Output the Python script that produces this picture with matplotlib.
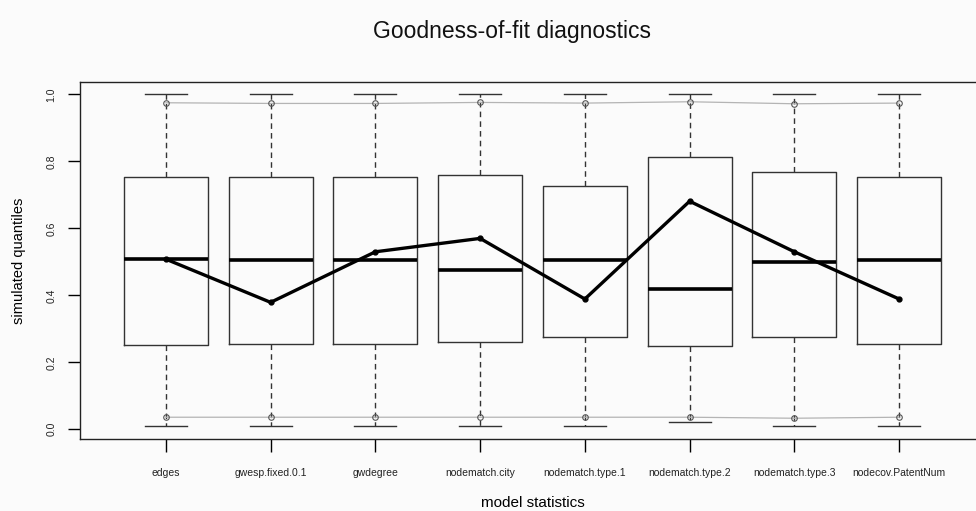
import numpy as np
import matplotlib.pyplot as plt

plt.rcParams['font.family'] = ['Liberation Sans', 'DejaVu Sans']

stats_names = ["edges", "gwesp.fixed.0.1", "gwdegree", "nodematch.city",
               "nodematch.type.1", "nodematch.type.2", "nodematch.type.3",
               "nodecov.PatentNum"]

q1 = [0.252, 0.255, 0.255, 0.261, 0.276, 0.250, 0.276, 0.255]
med = [0.508, 0.505, 0.505, 0.476, 0.505, 0.420, 0.500, 0.505]
q3 = [0.754, 0.754, 0.754, 0.759, 0.727, 0.814, 0.767, 0.754]
whis_lo = [0.011, 0.011, 0.011, 0.011, 0.011, 0.023, 0.011, 0.011]
whis_hi = [1.0, 1.0, 1.0, 1.0, 1.0, 1.0, 1.0, 1.0]

obs = [0.508, 0.379, 0.530, 0.570, 0.389, 0.681, 0.530, 0.389]
ci_lo = [0.036, 0.036, 0.036, 0.036, 0.036, 0.036, 0.033, 0.036]
ci_hi = [0.975, 0.973, 0.973, 0.976, 0.974, 0.978, 0.972, 0.974]

x = np.arange(1, len(stats_names) + 1)

fig = plt.figure(figsize=(9.76, 5.11), dpi=100, facecolor='#fbfbfb')
ax = fig.add_axes([80 / 976, 1 - 439 / 511, 905 / 976, 357 / 511])
ax.set_facecolor('#fbfbfb')

boxes = [dict(med=m, q1=a, q3=b, whislo=lo, whishi=hi, label=n)
         for m, a, b, lo, hi, n in zip(med, q1, q3, whis_lo, whis_hi, stats_names)]
ax.bxp(boxes, positions=x, widths=0.8, showfliers=False,
       boxprops=dict(color='#333333', lw=1.0),
       whiskerprops=dict(color='#333333', lw=1.0, linestyle=(0, (4, 3))),
       capprops=dict(color='#333333', lw=1.0),
       capwidths=0.4,
       medianprops=dict(color='black', lw=2.6, solid_capstyle='butt'))

ax.plot(x, ci_hi, color='#b4b4b4', lw=0.9, zorder=3)
ax.plot(x, ci_lo, color='#b4b4b4', lw=0.9, zorder=3)
ax.plot(x, ci_hi, 'o', mfc='none', mec='#555555', ms=4, mew=0.8, zorder=4)
ax.plot(x, ci_lo, 'o', mfc='none', mec='#555555', ms=4, mew=0.8, zorder=4)

ax.plot(x, obs, color='black', lw=2.4, marker='o', ms=3.5, zorder=5)

ax.set_xlim(0.18, 8.82)
ax.set_ylim(-0.029, 1.037)
ax.set_xticks(x)
ax.set_xticklabels(stats_names, fontsize=7.5, color='#222222')
ax.set_yticks([0.0, 0.2, 0.4, 0.6, 0.8, 1.0])
ax.set_yticklabels(['0.0', '0.2', '0.4', '0.6', '0.8', '1.0'], fontsize=7.5,
                   rotation=90, va='center', color='#222222')
ax.tick_params(axis='x', length=9, width=1, pad=12)
ax.tick_params(axis='y', length=9, width=1, pad=8)
for s in ax.spines.values():
    s.set_linewidth(1.0)
    s.set_color('#222222')

ax.set_xlabel("model statistics", fontsize=11, labelpad=13)
ax.set_ylabel("simulated quantiles", fontsize=10.5, labelpad=15)
fig.text(512 / 976, 1 - 31 / 511, "Goodness-of-fit diagnostics", fontsize=16.5,
         ha='center', va='center', color='#111111')

fig.savefig("out.png", dpi=100, facecolor=fig.get_facecolor())
